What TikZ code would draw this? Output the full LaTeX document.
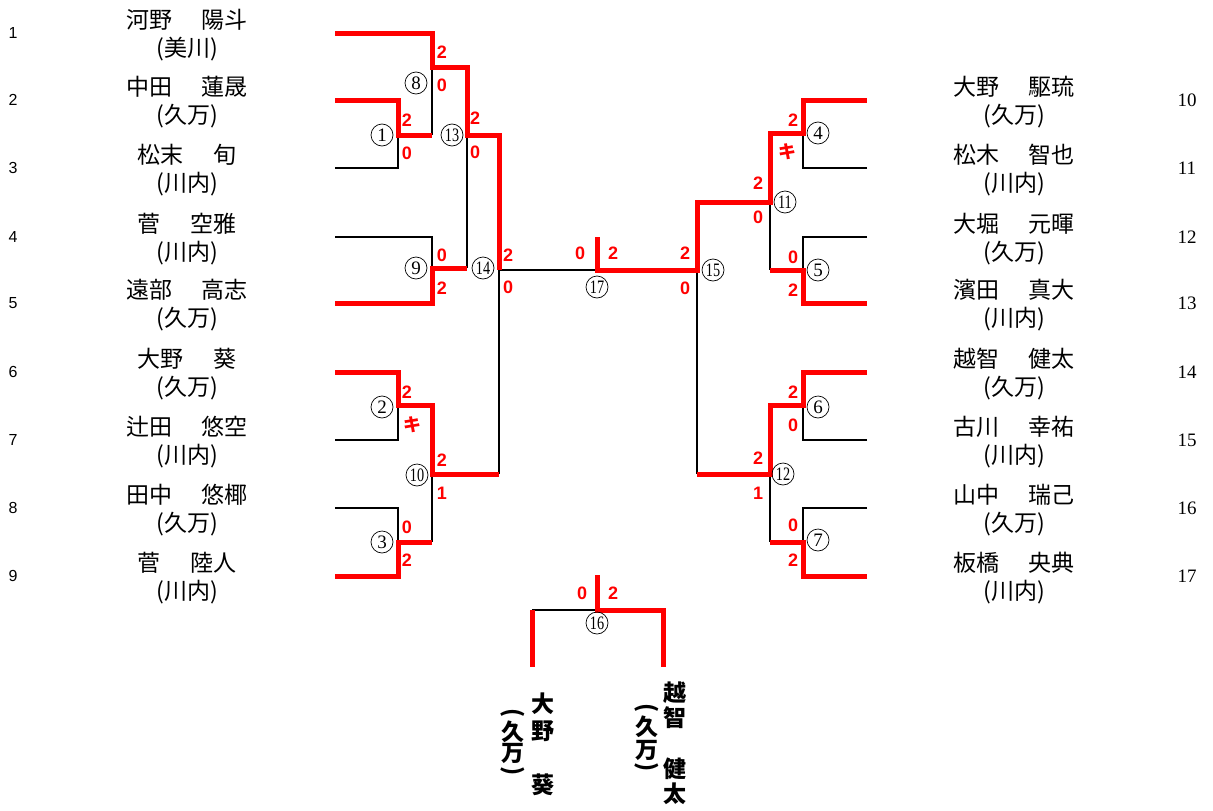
\documentclass[tikz,border=0pt]{standalone}
\usepackage{fontspec}
\usepackage{graphicx}
\newfontfamily\cjk{Noto Sans CJK JP}
\newfontfamily\arialf{Liberation Sans}
\newfontfamily\timesf{Liberation Serif}
\newcommand{\twod}[1]{\scalebox{0.75}[1]{#1}}
\newcommand{\gap}{\hspace{1.3em}}

\begin{document}
\begin{tikzpicture}[x=1pt, y=-1pt,
	lose/.style={line width=1.5pt, black},
	win/.style={line width=5pt, red, line join=miter},
	score/.style={text=red, inner sep=0pt, font=\arialf\bfseries\fontsize{18}{18}\selectfont},
	kiken/.style={text=red, inner sep=0pt, font=\cjk\bfseries\fontsize{18}{18}\selectfont},
	bout/.style={circle, draw, line width=0.7pt, inner sep=0pt, minimum size=22pt, font=\timesf\fontsize{19}{19}\selectfont},
	player/.style={align=center, inner sep=0pt, font=\cjk\fontsize{23}{28}\selectfont},
	lnum/.style={inner sep=0pt, font=\arialf\fontsize{16}{16}\selectfont},
	rnum/.style={inner sep=0pt, font=\timesf\fontsize{19}{19}\selectfont},
	vname/.style={align=center, inner sep=0pt, font=\cjk\bfseries\fontsize{23}{27}\selectfont}]
		\useasboundingbox (0,0) rectangle (1213,811);
		% seed numbers
		\node[lnum] (n1) at (13,33) {1};
		\node[lnum] (n2) at (13,100) {2};
		\node[lnum] (n3) at (13,168) {3};
		\node[lnum] (n4) at (13,237) {4};
		\node[lnum] (n5) at (13,303) {5};
		\node[lnum] (n6) at (13,372) {6};
		\node[lnum] (n7) at (13,440) {7};
		\node[lnum] (n8) at (13,508) {8};
		\node[lnum] (n9) at (13,576) {9};
		\node[rnum] (n10) at (1187,100) {10};
		\node[rnum] (n11) at (1187,168) {11};
		\node[rnum] (n12) at (1187,237) {12};
		\node[rnum] (n13) at (1187,303) {13};
		\node[rnum] (n14) at (1187,372) {14};
		\node[rnum] (n15) at (1187,440) {15};
		\node[rnum] (n16) at (1187,508) {16};
		\node[rnum] (n17) at (1187,576) {17};
		% players
		\node[player] (p1) at (187,35) {河野\gap 陽斗\\(美川)};
		\node[player] (p2) at (187,102) {中田\gap 蓮晟\\(久万)};
		\node[player] (p3) at (187,170) {松末\gap 旬\\(川内)};
		\node[player] (p4) at (187,239) {菅\gap 空雅\\(川内)};
		\node[player] (p5) at (187,305) {遠部\gap 高志\\(久万)};
		\node[player] (p6) at (187,374) {大野\gap 葵\\(久万)};
		\node[player] (p7) at (187,442) {辻田\gap 悠空\\(川内)};
		\node[player] (p8) at (187,510) {田中\gap 悠椰\\(久万)};
		\node[player] (p9) at (187,578) {菅\gap 陸人\\(川内)};
		\node[player] (p10) at (1014,102) {大野\gap 駆琉\\(久万)};
		\node[player] (p11) at (1014,170) {松木\gap 智也\\(川内)};
		\node[player] (p12) at (1014,239) {大堀\gap 元暉\\(久万)};
		\node[player] (p13) at (1014,305) {濱田\gap 真大\\(川内)};
		\node[player] (p14) at (1014,374) {越智\gap 健太\\(久万)};
		\node[player] (p15) at (1014,442) {古川\gap 幸祐\\(川内)};
		\node[player] (p16) at (1014,510) {山中\gap 瑞己\\(久万)};
		\node[player] (p17) at (1014,578) {板橋\gap 央典\\(川内)};
		% lost lines
		\draw[lose] (335,168) -- (398,168) -- (398,135);
		\draw[lose] (432,67) -- (432,135);
		\draw[lose] (335,237) -- (432,237) -- (432,268);
		\draw[lose] (467,135) -- (467,268);
		\draw[lose] (335,440) -- (398,440) -- (398,405);
		\draw[lose] (335,508) -- (398,508) -- (398,542);
		\draw[lose] (432,474) -- (432,542);
		\draw[lose] (499,270) -- (499,474);
		\draw[lose] (499,270) -- (597,270);
		\draw[lose] (697,270) -- (697,474);
		\draw[lose] (770,202) -- (770,270);
		\draw[lose] (867,168) -- (803,168) -- (803,133);
		\draw[lose] (867,237) -- (803,237) -- (803,270);
		\draw[lose] (867,440) -- (803,440) -- (803,405);
		\draw[lose] (770,474) -- (770,542);
		\draw[lose] (867,508) -- (803,508) -- (803,542);
		\draw[lose] (532,610) -- (597,610);
		% winners' paths
		\draw[win] (335,33) -- (432,33) -- (432,67) -- (467,67) -- (467,135) -- (499,135) -- (499,270);
		\draw[win] (335,100) -- (398,100) -- (398,135) -- (432,135);
		\draw[win] (335,303) -- (432,303) -- (432,268) -- (467,268);
		\draw[win] (335,372) -- (398,372) -- (398,405) -- (432,405) -- (432,474) -- (499,474);
		\draw[win] (335,576) -- (398,576) -- (398,542) -- (432,542);
		\draw[win] (597,237) -- (597,270) -- (697,270) -- (697,202) -- (770,202) -- (770,133) -- (803,133) -- (803,100) -- (867,100);
		\draw[win] (867,303) -- (803,303) -- (803,270) -- (770,270);
		\draw[win] (867,372) -- (803,372) -- (803,405) -- (770,405) -- (770,474) -- (697,474);
		\draw[win] (867,576) -- (803,576) -- (803,542) -- (770,542);
		% 3rd place bout
		\draw[win] (597,575) -- (597,610) -- (663,610) -- (663,667);
		\draw[win] (532,610) -- (532,667);
		% bout numbers
		\node[bout] (b1) at (382,135) {1};
		\node[bout] (b2) at (382,407) {2};
		\node[bout] (b3) at (382,542) {3};
		\node[bout] (b4) at (818,133) {4};
		\node[bout] (b5) at (818,270) {5};
		\node[bout] (b6) at (818,407) {6};
		\node[bout] (b7) at (818,540) {7};
		\node[bout] (b8) at (416,83) {8};
		\node[bout] (b9) at (416,268) {9};
		\node[bout] (b10) at (417,475) {\twod{10}};
		\node[bout] (b11) at (785,202) {\twod{11}};
		\node[bout] (b12) at (783,474) {\twod{12}};
		\node[bout] (b13) at (452,135) {\twod{13}};
		\node[bout] (b14) at (483,268) {\twod{14}};
		\node[bout] (b15) at (713,270) {\twod{15}};
		\node[bout] (b16) at (597,623) {\twod{16}};
		\node[bout] (b17) at (597,287) {\twod{17}};
		% scores
		\node[score] (s1a) at (407,120) {2};
		\node[score] (s1b) at (407,153) {0};
		\node[score] (s2a) at (407,392) {2};
		\node[kiken] (s2b) at (412,425) {キ};
		\node[score] (s3a) at (407,527) {0};
		\node[score] (s3b) at (407,560) {2};
		\node[score] (s8a) at (442,52) {2};
		\node[score] (s8b) at (442,85) {0};
		\node[score] (s9a) at (442,255) {0};
		\node[score] (s9b) at (442,288) {2};
		\node[score] (s10a) at (442,460) {2};
		\node[score] (s10b) at (442,493) {1};
		\node[score] (s13a) at (475,118) {2};
		\node[score] (s13b) at (475,152) {0};
		\node[score] (s14a) at (508,255) {2};
		\node[score] (s14b) at (508,287) {0};
		\node[score] (s17a) at (580,253) {0};
		\node[score] (s17b) at (613,253) {2};
		\node[score] (s15a) at (685,253) {2};
		\node[score] (s15b) at (685,288) {0};
		\node[score] (s11a) at (758,183) {2};
		\node[score] (s11b) at (758,217) {0};
		\node[score] (s4a) at (793,120) {2};
		\node[kiken] (s4b) at (787,152) {キ};
		\node[score] (s5a) at (793,257) {0};
		\node[score] (s5b) at (793,290) {2};
		\node[score] (s6a) at (793,392) {2};
		\node[score] (s6b) at (793,425) {0};
		\node[score] (s12a) at (758,458) {2};
		\node[score] (s12b) at (758,493) {1};
		\node[score] (s7a) at (793,525) {0};
		\node[score] (s7b) at (793,560) {2};
		\node[score] (s16a) at (582,593) {0};
		\node[score] (s16b) at (613,593) {2};
		% 3rd place players, written top to bottom
		\node[vname] (v1) at (543,744) {大\\野\\　\\葵};
		\node[vname, font=\cjk\bfseries\fontsize{23}{21}\selectfont] (v1c) at (513,742) {久\\万};
		\node[vname, rotate=-90] (v1o) at (513,713) {(};
		\node[vname, rotate=-90] (v1e) at (513,771) {)};
		\node[vname, font=\cjk\bfseries\fontsize{23}{25.3}\selectfont] (v2) at (675,743) {越\\智\\　\\健\\太};
		\node[vname, font=\cjk\bfseries\fontsize{23}{23}\selectfont] (v2c) at (647,738) {久\\万};
		\node[vname, rotate=-90] (v2o) at (647,708) {(};
		\node[vname, rotate=-90] (v2e) at (647,767) {)};
	\end{tikzpicture}
\end{document}
